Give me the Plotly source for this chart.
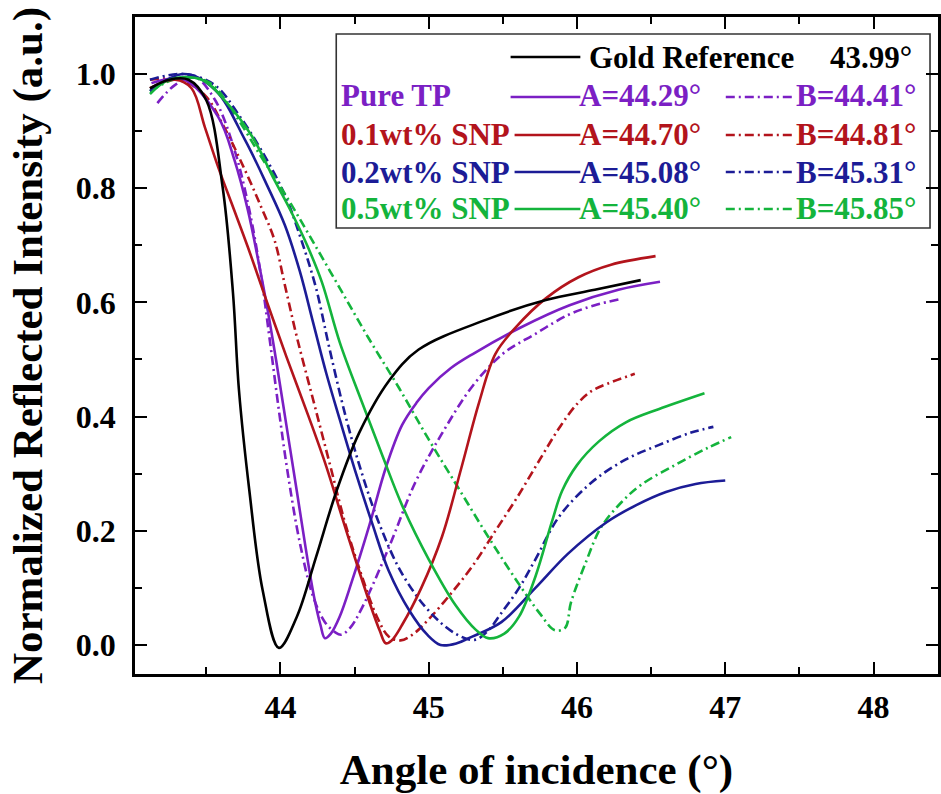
import plotly.graph_objects as go

# ---- SPR reflectance curves (angle in degrees, normalized intensity) ----
gold_x = [43.12, 43.25, 43.38, 43.50, 43.61, 43.68, 43.72, 43.79, 43.88, 43.99,
          44.11, 44.24, 44.38, 44.53, 44.73, 44.93, 45.38, 45.79, 46.12, 46.43]
gold_y = [0.975, 0.99, 0.99, 0.954, 0.802, 0.616, 0.447, 0.271, 0.096, -0.005,
          0.049, 0.154, 0.271, 0.371, 0.462, 0.517, 0.569, 0.604, 0.622, 0.639]

tp_a_x = [43.13, 43.35, 43.58, 43.69, 43.78, 43.85, 43.91, 43.97, 44.04, 44.11,
          44.17, 44.23, 44.27, 44.30, 44.34, 44.40, 44.48, 44.60, 44.71, 44.82,
          44.92, 45.00, 45.15, 45.30, 45.62, 45.95, 46.28, 46.56]
tp_a_y = [0.984, 0.99, 0.925, 0.849, 0.762, 0.674, 0.592, 0.50, 0.385, 0.27,
          0.17, 0.08, 0.035, 0.012, 0.02, 0.05, 0.11, 0.21, 0.31, 0.385,
          0.425, 0.45, 0.485, 0.51, 0.556, 0.595, 0.622, 0.636]

tp_b_x = [43.17, 43.29, 43.42, 43.56, 43.69, 43.79, 43.87, 43.93, 43.99, 44.05,
          44.13, 44.22, 44.30, 44.37, 44.41, 44.47, 44.55, 44.73, 44.91, 45.10,
          45.30, 45.50, 45.72, 45.94, 46.12, 46.30]
tp_b_y = [0.949, 0.981, 0.995, 0.954, 0.867, 0.762, 0.645, 0.53, 0.41, 0.30,
          0.18, 0.085, 0.04, 0.022, 0.018, 0.03, 0.065, 0.17, 0.285, 0.375,
          0.455, 0.51, 0.545, 0.578, 0.595, 0.606]

snp1_a_x = [43.12, 43.29, 43.40, 43.49, 43.58, 43.67, 43.78, 43.91, 44.04, 44.19,
            44.31, 44.42, 44.53, 44.62, 44.67, 44.71, 44.75, 44.82, 44.95, 45.09,
            45.22, 45.34, 45.45, 45.59, 45.79, 46.01, 46.23, 46.53]
snp1_a_y = [0.975, 0.99, 0.975, 0.907, 0.837, 0.774, 0.697, 0.60, 0.505, 0.40,
            0.312, 0.22, 0.13, 0.06, 0.025, 0.003, 0.008, 0.035, 0.10, 0.19,
            0.31, 0.425, 0.51, 0.557, 0.607, 0.644, 0.666, 0.681]

snp1_b_x = [43.12, 43.32, 43.49, 43.62, 43.76, 43.87, 43.96, 44.03, 44.11, 44.22,
            44.33, 44.44, 44.55, 44.65, 44.73, 44.81, 44.90, 45.00, 45.15, 45.30,
            45.45, 45.60, 45.75, 45.88, 46.00, 46.10, 46.21, 46.39]
snp1_b_y = [0.99, 0.99, 0.963, 0.907, 0.832, 0.767, 0.709, 0.63, 0.54, 0.43,
            0.32, 0.21, 0.12, 0.05, 0.015, 0.008, 0.02, 0.045, 0.09, 0.14,
            0.20, 0.26, 0.325, 0.38, 0.422, 0.445, 0.458, 0.475]

snp2_a_x = [43.12, 43.35, 43.56, 43.76, 43.91, 44.03, 44.13, 44.22, 44.31, 44.40,
            44.51, 44.62, 44.73, 44.87, 44.99, 45.08, 45.19, 45.27, 45.49, 45.72,
            45.94, 46.20, 46.40, 46.60, 46.80, 47.00]
snp2_a_y = [0.97, 1.0, 0.972, 0.885, 0.805, 0.735, 0.655, 0.565, 0.475, 0.395,
            0.30, 0.212, 0.13, 0.06, 0.018, 0.0, 0.003, 0.012, 0.04, 0.10,
            0.16, 0.215, 0.245, 0.268, 0.282, 0.288]

snp2_b_x = [43.12, 43.35, 43.56, 43.72, 43.87, 44.03, 44.14, 44.24, 44.33, 44.44,
            44.55, 44.67, 44.82, 45.00, 45.18, 45.31, 45.40, 45.49, 45.61, 45.72,
            45.88, 46.10, 46.33, 46.55, 46.77, 46.92]
snp2_b_y = [0.99, 1.0, 0.98, 0.928, 0.867, 0.788, 0.71, 0.625, 0.52, 0.40,
            0.30, 0.21, 0.125, 0.06, 0.02, 0.009, 0.025, 0.056, 0.10, 0.15,
            0.225, 0.285, 0.325, 0.35, 0.372, 0.382]

snp5_a_x = [43.12, 43.25, 43.47, 43.64, 43.81, 43.96, 44.07, 44.18, 44.28, 44.40,
            44.55, 44.69, 44.82, 45.00, 45.18, 45.32, 45.40, 45.51, 45.61, 45.72,
            45.83, 45.90, 46.00, 46.15, 46.33, 46.55, 46.86]
snp5_a_y = [0.965, 0.99, 0.99, 0.949, 0.890, 0.814, 0.76, 0.70, 0.635, 0.53,
            0.425, 0.33, 0.245, 0.15, 0.07, 0.026, 0.012, 0.02, 0.05, 0.12,
            0.215, 0.27, 0.315, 0.357, 0.39, 0.413, 0.441]

snp5_b_x = [43.12, 43.32, 43.52, 43.69, 43.87, 44.03, 44.20, 44.40, 44.60, 44.80,
            45.00, 45.20, 45.40, 45.60, 45.75, 45.85, 45.92, 45.96, 46.06, 46.16,
            46.30, 46.43, 46.66, 46.88, 47.04]
snp5_b_y = [0.97, 0.993, 0.985, 0.93, 0.855, 0.79, 0.715, 0.625, 0.535, 0.45,
            0.36, 0.275, 0.19, 0.11, 0.055, 0.026, 0.03, 0.075, 0.145, 0.205,
            0.25, 0.28, 0.315, 0.345, 0.364]

# ---- legend table text ----
sample_names = ["Pure TP", "0.1wt% SNP", "0.2wt% SNP", "0.5wt% SNP"]
a_labels = ["A=44.29°", "A=44.70°", "A=45.08°", "A=45.40°"]
b_labels = ["B=44.41°", "B=44.81°", "B=45.31°", "B=45.85°"]
gold_label = "Gold Reference"
gold_angle = "43.99°"

x_ticks = [44, 45, 46, 47, 48]

GOLD = "#000000"
colors = ["#7B1FC4", "#B3141C", "#1C1C96", "#14B43C"]

FONT = "Liberation Serif"
DASHDOT = "9px,4px,2px,4px"
LW = 2.6

series_a = [(tp_a_x, tp_a_y), (snp1_a_x, snp1_a_y), (snp2_a_x, snp2_a_y), (snp5_a_x, snp5_a_y)]
series_b = [(tp_b_x, tp_b_y), (snp1_b_x, snp1_b_y), (snp2_b_x, snp2_b_y), (snp5_b_x, snp5_b_y)]

fig = go.Figure()

def add_curve(xs, ys, color, dash, name):
    fig.add_trace(go.Scatter(
        x=xs, y=ys, mode="lines", name=name, showlegend=False,
        line=dict(color=color, width=LW, dash=dash, shape="spline", smoothing=1.0),
        hoverinfo="x+y+name",
    ))

for (xs, ys), c, nm in zip(series_b, colors, sample_names):
    add_curve(xs, ys, c, DASHDOT, nm + " B")
for (xs, ys), c, nm in zip(series_a, colors, sample_names):
    add_curve(xs, ys, c, "solid", nm + " A")
add_curve(gold_x, gold_y, GOLD, "solid", gold_label)

# ---- plot-area geometry in pixels (for the legend table) ----
W, H = 941, 794
ML, MR, MT, MB = 135, 0, 17, 120
PW, PH = W - ML - MR, H - MT - MB

def px(x):
    return (x - ML) / PW

def py(y):
    return (H - MB - y) / PH

shapes = []
annotations = []

# legend frame
shapes.append(dict(type="rect", xref="paper", yref="paper",
                   x0=px(337), x1=px(933), y0=py(228), y1=py(34),
                   line=dict(color="#333333", width=1.6), fillcolor="white", layer="below"))

LEG_FS = 31
line_y = [97, 135, 172, 209]
text_y = [95, 134, 172, 208]

def text(x, y, s, color, anchor="left"):
    annotations.append(dict(xref="paper", yref="paper", x=px(x), y=py(y), text=s,
                            showarrow=False, xanchor=anchor, yanchor="middle",
                            font=dict(family=FONT, size=LEG_FS, color=color, weight="bold")))

def seg(x0, x1, y, color, dash):
    shapes.append(dict(type="line", xref="paper", yref="paper",
                       x0=px(x0), x1=px(x1), y0=py(y), y1=py(y),
                       line=dict(color=color, width=LW, dash=dash)))

# gold reference row
seg(512, 582, 57, GOLD, "solid")
text(589, 57, gold_label, GOLD)
text(917, 57, gold_angle, GOLD, "right")

for i, (nm, a, b, c) in enumerate(zip(sample_names, a_labels, b_labels, colors)):
    text(340, text_y[i], nm, c)
    seg(512 if i == 0 else 516, 582, line_y[i], c, "solid")
    text(579, text_y[i], a, c)
    seg(728, 798, line_y[i], c, DASHDOT)
    text(796, text_y[i], b, c)

axis_common = dict(
    showline=True, linecolor="black", linewidth=2.6, mirror="ticks",
    ticks="inside", ticklen=12, tickwidth=2.2, tickcolor="black",
    showgrid=False, zeroline=False,
    tickfont=dict(family=FONT, size=32, color="black", weight="bold"),
)

fig.update_layout(
    width=W, height=H,
    margin=dict(l=ML, r=MR, t=MT, b=MB),
    paper_bgcolor="white", plot_bgcolor="white",
    shapes=shapes, annotations=annotations,
    xaxis=dict(
        range=[43.019, 48.435], tickvals=x_ticks,
        minor=dict(ticks="inside", ticklen=7, tickwidth=2, tickcolor="black", dtick=0.5, tick0=43.5),
        ticklabelstandoff=3,
        title=dict(text="<b>Angle of incidence (°)</b>", standoff=36,
                   font=dict(family=FONT, size=43, color="black")),
        **axis_common,
    ),
    yaxis=dict(
        range=[-0.0508, 1.0998], tick0=0, dtick=0.2, tickformat=".1f",
        minor=dict(ticks="inside", ticklen=7, tickwidth=2, tickcolor="black", dtick=0.1, tick0=0.1),
        ticklabelstandoff=10,
        title=dict(text="<b>Normalized Reflected Intensity (a.u.)</b>", standoff=20,
                   font=dict(family=FONT, size=43, color="black")),
        **axis_common,
    ),
)

fig.write_html("out.html")
